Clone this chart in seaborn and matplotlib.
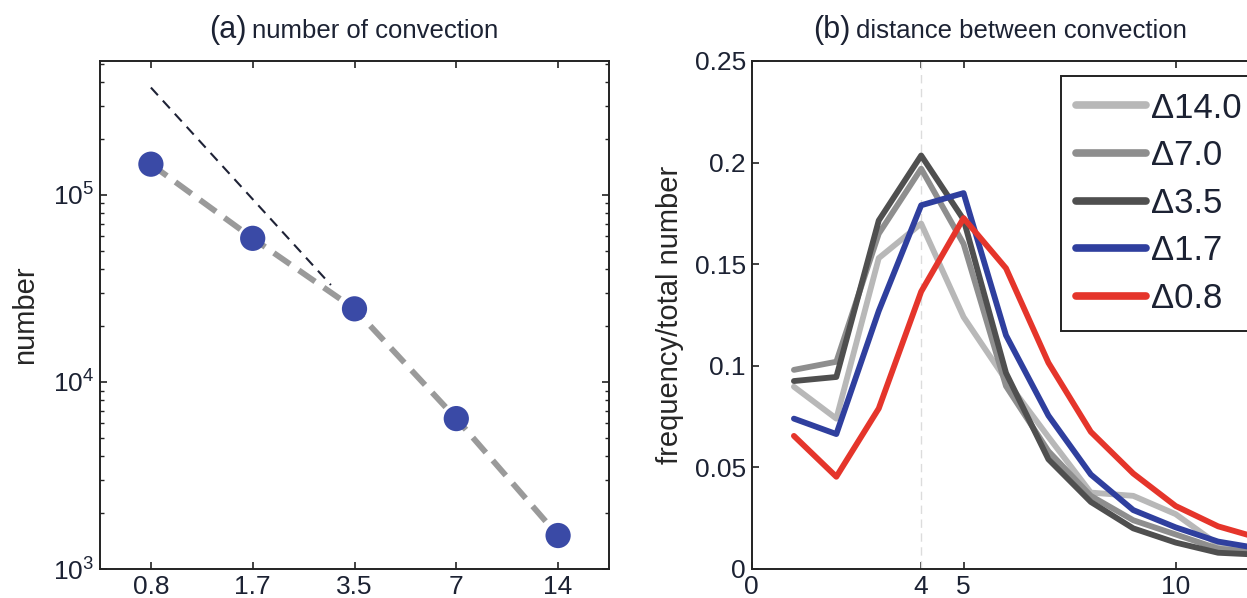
import matplotlib
matplotlib.use("Agg")

import numpy as np
import pandas as pd
import matplotlib.pyplot as plt
import matplotlib.ticker as mticker
import seaborn as sns

# ── data ──────────────────────────────────────────────────────────────────────
# (a) number of convective cells vs. grid spacing (km)
grid_km = [0.875, 1.75, 3.5, 7, 14]
grid_labels = ["0.8", "1.7", "3.5", "7", "14"]
n_conv = [1.46e5, 5.86e4, 2.46e4, 6.37e3, 1.51e3]
# reference slope line (~ x^-2)
ref_x = [0.875, 2.98]
ref_y = [3.75e5, 3.3e4]

# (b) distance between convection
dist = [1, 2, 3, 4, 5, 6, 7, 8, 9, 10, 11, 12]
freq_14 = [0.0897, 0.074, 0.153, 0.170, 0.124, 0.093, 0.065, 0.0376, 0.0360, 0.027, 0.012, 0.009]
freq_07 = [0.098, 0.102, 0.165, 0.197, 0.160, 0.090, 0.058, 0.036, 0.024, 0.017, 0.010, 0.008]
freq_35 = [0.0925, 0.0945, 0.1715, 0.2035, 0.172, 0.0965, 0.054, 0.033, 0.020, 0.013, 0.008, 0.007]
freq_17 = [0.074, 0.0664, 0.127, 0.179, 0.185, 0.115, 0.0755, 0.0465, 0.029, 0.0205, 0.0135, 0.010]
freq_08 = [0.0655, 0.0454, 0.079, 0.1365, 0.1727, 0.148, 0.1015, 0.0675, 0.047, 0.031, 0.021, 0.015]
run_labels = ["Δ14.0", "Δ7.0", "Δ3.5", "Δ1.7", "Δ0.8"]

# ── style ─────────────────────────────────────────────────────────────────────
TXT = "#1c2233"
BLUE_DOT = "#3a4aa6"
colors = {
    "Δ14.0": "#b8b8b8",
    "Δ7.0": "#8e8e8e",
    "Δ3.5": "#4f4f4f",
    "Δ1.7": "#2f3f9e",
    "Δ0.8": "#e5352b",
}

sns.set_style("ticks")
plt.rcParams.update({
    "font.family": ["Liberation Sans", "DejaVu Sans"],
    "mathtext.fontset": "custom",
    "mathtext.rm": "Liberation Sans",
    "mathtext.it": "Liberation Sans",
    "text.color": TXT,
    "axes.edgecolor": "#222222",
    "axes.linewidth": 1.4,
    "xtick.color": "#222222",
    "ytick.color": "#222222",
    "xtick.labelcolor": TXT,
    "ytick.labelcolor": TXT,
})

fig = plt.figure(figsize=(12.47, 5.98), dpi=100)
ax1 = fig.add_axes([100 / 1247, 1 - 569 / 598, 509 / 1247, 508 / 598])
ax2 = fig.add_axes([751.5 / 1247, 1 - 569 / 598, 509 / 1247, 508 / 598])

# ── panel (a) ─────────────────────────────────────────────────────────────────
df_a = pd.DataFrame({"grid": grid_km, "n": n_conv})
sns.lineplot(data=df_a, x="grid", y="n", ax=ax1, color="#9a9a9a", lw=4.2,
             linestyle=(0, (3.4, 1.8)), zorder=2)
sns.lineplot(x=ref_x, y=ref_y, ax=ax1, color="#1e2236", lw=1.5,
             linestyle=(0, (5, 3.5)), zorder=2)
sns.scatterplot(data=df_a, x="grid", y="n", ax=ax1, color=BLUE_DOT, s=330,
                edgecolor="none", zorder=3)

ax1.set_xscale("log")
ax1.set_yscale("log")
ax1.set_xlim(0.875 / np.sqrt(2), 14 * np.sqrt(2))
ax1.set_ylim(1e3, 5.2e5)
ax1.set_xticks(grid_km)
ax1.set_xticklabels(grid_labels)
ax1.xaxis.set_minor_locator(mticker.NullLocator())
ax1.yaxis.set_major_locator(mticker.FixedLocator([1e3, 1e4, 1e5]))
ax1.yaxis.set_major_formatter(mticker.LogFormatterMathtext())
ax1.yaxis.set_minor_locator(mticker.LogLocator(base=10, subs=np.arange(2, 10)))
ax1.set_xlabel("")
ax1.set_ylabel("number", fontsize=21, labelpad=10)
ax1.tick_params(which="both", direction="in", top=True, right=True, labelsize=19)
ax1.tick_params(which="major", length=5, width=1.2, pad=4)
ax1.tick_params(which="minor", length=3, width=1.0)

ax1.text(0.289, 1.045, "(a)", transform=ax1.transAxes, ha="right", va="baseline",
         fontsize=22)
ax1.text(0.298, 1.045, "number of convection", transform=ax1.transAxes, ha="left",
         va="baseline", fontsize=18.5)

# ── panel (b) ─────────────────────────────────────────────────────────────────
df_b = pd.DataFrame({
    "dist": dist * 5,
    "freq": freq_14 + freq_07 + freq_35 + freq_17 + freq_08,
    "run": [lab for lab in run_labels for _ in dist],
})
ax2.axvline(4, color="#dcdcdc", lw=1.0, ls=(0, (6, 4)), zorder=1)
sns.lineplot(data=df_b, x="dist", y="freq", hue="run", hue_order=run_labels,
             palette=colors, lw=4.2, ax=ax2, zorder=2)

ax2.set_xlim(0, 12)
ax2.set_ylim(0, 0.25)
ax2.set_xticks([0, 4, 5, 10])
ax2.set_xticklabels(["0", "4", "5", "10"])
ax2.set_yticks([0, 0.05, 0.1, 0.15, 0.2, 0.25])
ax2.set_yticklabels(["0", "0.05", "0.1", "0.15", "0.2", "0.25"])
ax2.set_xlabel("")
ax2.set_ylabel("frequency/total number", fontsize=21, labelpad=8)
ax2.tick_params(which="both", direction="in", top=True, right=True, labelsize=19)
ax2.tick_params(which="major", length=5, width=1.2, pad=4)

ax2.text(0.195, 1.045, "(b)", transform=ax2.transAxes, ha="right", va="baseline",
         fontsize=22)
ax2.text(0.205, 1.045, "distance between convection", transform=ax2.transAxes,
         ha="left", va="baseline", fontsize=18.5)

handles, labels = ax2.get_legend_handles_labels()
leg = ax2.legend(handles, labels, loc="upper left",
                 bbox_to_anchor=(1060.5 / 1247, 1 - 76 / 598),
                 bbox_transform=fig.transFigure, fontsize=25, frameon=True,
                 fancybox=False, framealpha=1, edgecolor="#222222",
                 handlelength=2.0, handletextpad=0.15, labelspacing=0.42,
                 borderpad=0.45, borderaxespad=0)
leg.get_frame().set_linewidth(1.4)
for h in leg.get_lines():
    h.set_linewidth(5.5)

fig.savefig("out.png", dpi=100)
